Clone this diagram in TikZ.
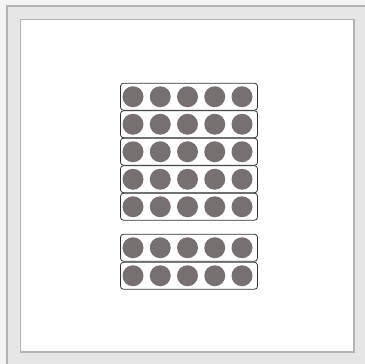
\documentclass[tikz,border=0pt]{standalone}
\begin{document}
\begin{tikzpicture}[x=1pt,y=-1pt,
  rowbox/.style={draw=black!80,line width=0.8pt,rounded corners=3pt,minimum width=137pt,minimum height=27pt,inner sep=0pt},
  dot/.style={circle,fill=dotgray,minimum size=21pt,inner sep=0pt}]
\definecolor{dotgray}{RGB}{118,113,112}
\definecolor{pagebg}{RGB}{244,244,244}
\definecolor{framebg}{RGB}{230,230,230}
\definecolor{frameline}{RGB}{180,178,178}
\useasboundingbox (0,0) rectangle (365,364);
\fill[pagebg] (0,0) rectangle (365,364);
\fill[framebg] (6,5) rectangle (366,365);
\draw[frameline,line width=1.6pt] (6.8,366) -- (6.8,5.8) -- (366,5.8);
\fill[white] (20,19) rectangle (354,352);
\draw[frameline,line width=1.6pt] (20.5,19.5) rectangle (354,352);
\foreach \i/\t in {1/83,2/110.5,3/138,4/165.5,5/193,6/234,7/262}{
  \node[rowbox] (r\i) at (189,\t+13.75) {};
  \foreach \k in {0,...,4}{
    \node[dot] (d\i\k) at (133+27.25*\k,\t+13.75) {};
  }
}
\end{tikzpicture}
\end{document}
